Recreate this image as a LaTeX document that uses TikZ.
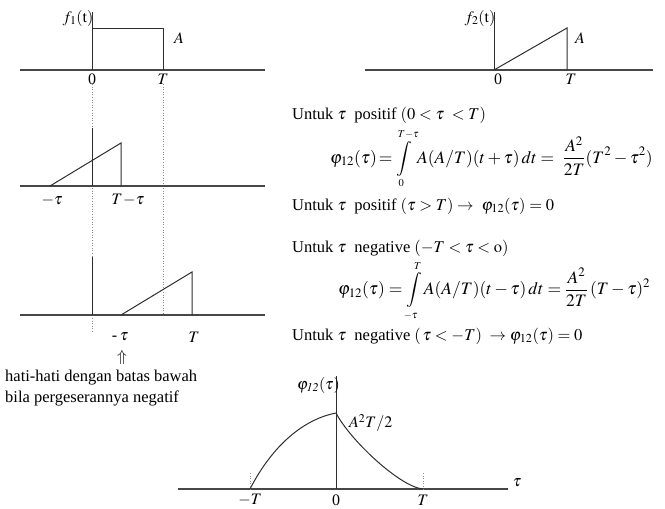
\documentclass[tikz,border=0pt]{standalone}
\usepackage{mathptmx}
\usepackage{fontspec}
\setmainfont{Liberation Serif}
\tikzset{
  ax/.style={line width=1.1pt, draw=black!72},
  ln/.style={line width=1pt, draw=black!82},
  guide/.style={line width=0.6pt, draw=black!45, dotted},
  lbl/.style={font=\fontsize{16}{19}\selectfont, inner sep=0pt},
  txt/.style={font=\fontsize{16.5}{19}\selectfont, inner sep=0pt, anchor=west},
  eqn/.style={font=\fontsize{17.5}{20}\selectfont, inner sep=0pt, anchor=west},
}
\newcommand{\smlim}[1]{{\scriptscriptstyle #1}}
\begin{document}
\begin{tikzpicture}[x=1pt,y=-1pt]
\useasboundingbox (0,0) rectangle (665,509);
% ---------- top left: f1
\coordinate (p1a) at (20,70);  \coordinate (p1b) at (265,70);
\coordinate (p1o) at (92,70);  \coordinate (p1t) at (92,12);
\coordinate (p1c) at (92,28);  \coordinate (p1d) at (163,28); \coordinate (p1e) at (163,70);
\draw[ax] (p1a) -- (p1b);
\draw[ln] (p1t) -- (p1o);
\draw[ln] (p1c) -- (p1d) -- (p1e);
\node[lbl, anchor=east] (f1) at (93.5,18) {$f_1(\mathrm{t})$};
\node[lbl] (A1) at (179,38) {$A$};
\node[lbl] (z1) at (92,79) {0};
\node[lbl] (T1) at (163,79) {$T$};
% guides
\coordinate (g1a) at (92,84);  \coordinate (g1b) at (92,333);
\coordinate (g2a) at (163,84); \coordinate (g2b) at (163,318);
\draw[guide] (g1a) -- (g1b);
\draw[guide] (g2a) -- (g2b);
% ---------- middle left
\coordinate (p2a) at (20,186); \coordinate (p2b) at (265,186);
\coordinate (p2t) at (92,128); \coordinate (p2o) at (92,186);
\coordinate (p2s) at (50,186); \coordinate (p2p) at (121,143); \coordinate (p2e) at (121,186);
\draw[ax] (p2a) -- (p2b);
\draw[ln] (p2t) -- (p2o);
\draw[ln] (p2s) -- (p2p) -- (p2e);
\node[lbl] (m1) at (52,200) {$-\tau$};
\node[lbl] (m2) at (128,200) {$T\!-\!\tau$};
% ---------- bottom left
\coordinate (p3a) at (20,315); \coordinate (p3b) at (265,315);
\coordinate (p3t) at (92,257); \coordinate (p3o) at (92,315);
\coordinate (p3s) at (121,315); \coordinate (p3p) at (192,272); \coordinate (p3e) at (192,315);
\draw[ax] (p3a) -- (p3b);
\draw[ln] (p3t) -- (p3o);
\draw[ln] (p3s) -- (p3p) -- (p3e);
\node[lbl] (b1) at (120,337) {-\,$\tau$};
\node[lbl] (b2) at (194,337) {$T$};
\node[lbl] (b3) at (122,357) {$\Uparrow$};
\node[txt] (n1) at (5,378) {hati-hati dengan batas bawah};
\node[txt] (n2) at (5,398) {bila pergeserannya negatif};
% ---------- top right: f2
\coordinate (q1a) at (365,70); \coordinate (q1b) at (653,70);
\coordinate (q1t) at (494,12); \coordinate (q1o) at (494,70);
\coordinate (q1p) at (567,28); \coordinate (q1e) at (567,70);
\draw[ax] (q1a) -- (q1b);
\draw[ln] (q1t) -- (q1o);
\draw[ln] (q1o) -- (q1p) -- (q1e);
\node[lbl, anchor=east] (f2) at (495.5,18) {$f_2(\mathrm{t})$};
\node[lbl] (A2) at (580,38) {$A$};
\node[lbl] (z2) at (498,79) {0};
\node[lbl] (T2) at (571,79) {$T$};
% ---------- text on the right
\node[txt] (r1) at (292,115) {Untuk $\tau$\ \ positif $(0<\tau\ <T)$};
\node[eqn] (r2) at (330,159) {$\displaystyle\varphi_{12}(\tau)\!=\!\int\limits_{\smlim{0}}^{\smlim{T-\tau}} A(A/T)(t+\tau)\,dt=\ \frac{A^2}{2T}(T^2-\tau^2)$};
\node[txt] (r3) at (292,206) {Untuk $\tau$\ \ positif $(\tau>T)\rightarrow\ \varphi_{12}(\tau)=0$};
\node[txt] (r4) at (292,248) {Untuk $\tau$\ \ negative $(-T<\tau<\mathrm{o})$};
\node[eqn] (r5) at (338,291) {$\displaystyle\varphi_{12}(\tau)=\int\limits_{\smlim{-\tau}}^{\smlim{T}} A(A/T)(t-\tau)\,dt=\frac{A^2}{2T}\,(T-\tau)^2$};
\node[txt] (r6) at (292,336) {Untuk $\tau$\ \ negative $(\,\tau<-T)\ \rightarrow\varphi_{12}(\tau)=0$};
% ---------- bottom graph
\coordinate (c1a) at (178,489); \coordinate (c1b) at (508,489);
\coordinate (c1t) at (336,376); \coordinate (c1o) at (336,489);
\coordinate (cL) at (250,489); \coordinate (cP) at (336,413); \coordinate (cR) at (423,489);
\coordinate (cLt) at (250,473); \coordinate (cRt) at (423,473);
\draw[ax] (c1a) -- (c1b);
\draw[ln] (c1t) -- (c1o);
\draw[ln] (cL) .. controls (270,450) and (300,420) .. (cP);
\draw[ln] (cP) .. controls (350,440) and (400,487) .. (cR);
\draw[guide] (cLt) -- (cL);
\draw[guide] (cRt) -- (cR);
\node[lbl, anchor=east] (phi) at (340,385) {$\varphi_{\mathit{12}}(\tau)$};
\node[lbl, anchor=west] (pk) at (349,423) {$A^2T/2$};
\node[lbl] (x1) at (250,500) {$-T$};
\node[lbl] (x2) at (336,500) {0};
\node[lbl] (x3) at (423,500) {$T$};
\node[lbl] (x4) at (517,483) {$\tau$};
\end{tikzpicture}
\end{document}
